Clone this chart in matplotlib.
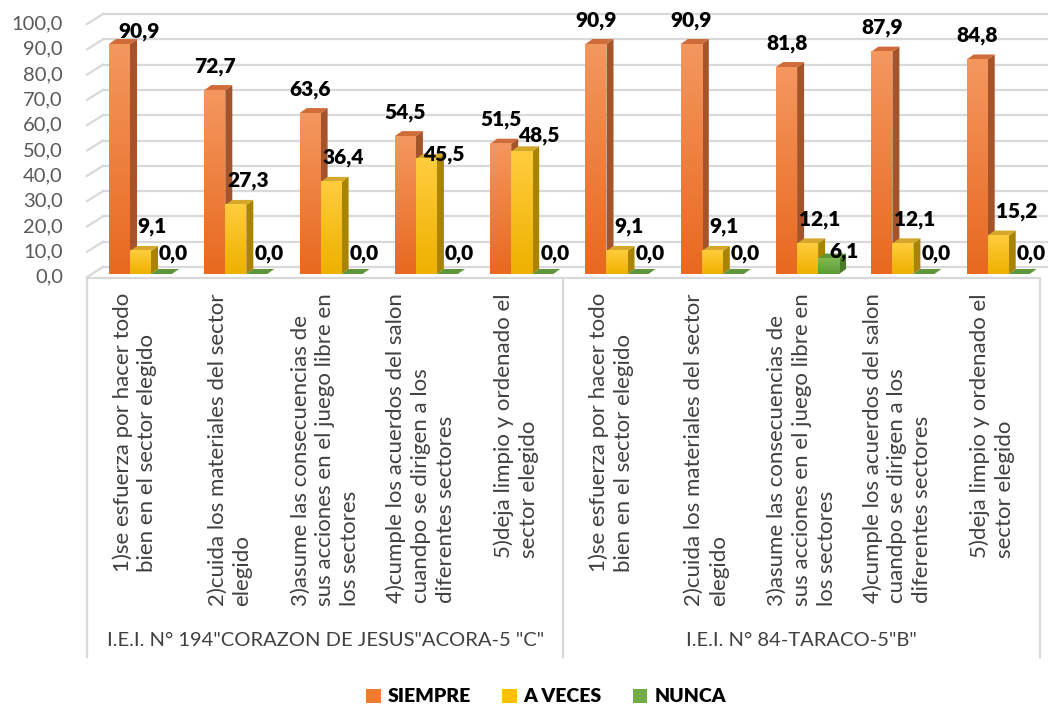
import numpy as np
import matplotlib
matplotlib.use('Agg')
import matplotlib.pyplot as plt
from matplotlib.patches import Polygon, Patch
from matplotlib.colors import LinearSegmentedColormap

# --- Datos ---
grupos = ['I.E.I. N° 194"CORAZON DE JESUS"ACORA-5 "C"', 'I.E.I. N° 84-TARACO-5"B"']
items = [
    '1)se esfuerza por hacer todo\nbien en el sector elegido',
    '2)cuida los materiales del sector\nelegido',
    '3)asume las consecuencias de\nsus acciones en el juego libre en\nlos sectores',
    '4)cumple los acuerdos del salon\ncuandpo se dirigen a los\ndiferentes sectores',
    '5)deja limpio y ordenado el\nsector elegido',
]
series = ['SIEMPRE', 'A VECES', 'NUNCA']
siempre = [90.9, 72.7, 63.6, 54.5, 51.5, 90.9, 90.9, 81.8, 87.9, 84.8]
a_veces = [9.1, 27.3, 36.4, 45.5, 48.5, 9.1, 9.1, 12.1, 12.1, 15.2]
nunca = [0.0, 0.0, 0.0, 0.0, 0.0, 0.0, 0.0, 6.1, 0.0, 0.0]
ticks = [0, 10, 20, 30, 40, 50, 60, 70, 80, 90, 100]

valores = [siempre, a_veces, nunca]
categorias = items + items

# --- Estilo ---
# colores: frente (arriba, abajo), lateral, tapa
estilos = [
    dict(front=('#f4975f', '#e8691f'), side='#a5532a', top='#cf6c3a', leg='#ee7d31'),
    dict(front=('#ffcc3d', '#eeb100'), side='#a98400', top='#d5a72a', leg='#ffc000'),
    dict(front=('#7dbb52', '#5d9a36'), side='#4b7a2c', top='#5f963c', leg='#70ad47'),
]
# desplazamiento de etiquetas (px) por serie y ajustes puntuales
lab_off = [(0, 24), (12, 24), (12, 20)]
lab_fix = {(0, 0): (20, 13), (1, 3): (17, 4), (1, 4): (17, 16),
           (2, 7): (15, 7), (1, 9): (18, 24)}

W, H = 1050, 709
PX, PY = 95.3, 2.53          # px por unidad x / por unidad de valor
X0, Y0 = 87, 274             # origen en px
fig = plt.figure(figsize=(W / 100, H / 100), dpi=100)
ax = fig.add_axes([0, 0, 1, 1])
ax.axis('off')

grid_c = '#d9d9d9'
wdx, wdy = 16 / PX, 10 / PY
x_end = (1047 - X0) / PX

# --- Rejilla (pared) ---
for t in ticks:
    yf = t - 1.2
    ax.plot([0, wdx], [yf, yf + wdy], color=grid_c, lw=1.6, zorder=1)
    ax.plot([wdx, x_end], [yf + wdy, yf + wdy], color=grid_c, lw=1.6, zorder=1)
    ax.text(-24 / PX, yf, f'{t:.1f}'.replace('.', ','), ha='right', va='center',
            fontsize=14.5, color='#595959', family='Lato')

# --- Barras 3D ---
bw = 21 / PX
ddx, ddy = 7 / PX, 5 / PY
grad = np.linspace(0, 1, 64).reshape(-1, 1)

for s, vals in enumerate(valores):
    st = estilos[s]
    cmap = LinearSegmentedColormap.from_list('g%d' % s, [st['front'][1], st['front'][0]])
    for i, v in enumerate(vals):
        x = i + 22 / PX + s * bw
        z = 3 + i * 3 + s
        side = [(x + bw, 0), (x + bw + ddx, ddy), (x + bw + ddx, v + ddy), (x + bw, v)]
        top = [(x, v), (x + ddx, v + ddy), (x + bw + ddx, v + ddy), (x + bw, v)]
        ax.add_patch(Polygon(side, closed=True, fc=st['side'], ec='none', zorder=z))
        ax.add_patch(Polygon(top, closed=True, fc=st['top'], ec='none', zorder=z))
        if v > 0:
            ax.imshow(grad, extent=[x, x + bw, 0, v], origin='lower', aspect='auto',
                      cmap=cmap, interpolation='bilinear', zorder=z)
        ox, oy = lab_fix.get((s, i), lab_off[s])
        ax.text(x + bw / 2 + ox / PX, v + oy / PY, f'{v:.1f}'.replace('.', ','),
                ha='center', va='center', fontsize=15, fontweight='heavy',
                color='black', family='Lato', zorder=100)

# --- Eje de categorias (dos niveles) ---
y_axis = (Y0 - 278) / PY
y_bot = (Y0 - 657) / PY
ax.plot([0, 10], [y_axis, y_axis], color=grid_c, lw=1.6, zorder=1)
for xv in [0, 5, 10]:
    ax.plot([xv, xv], [y_axis, y_bot], color=grid_c, lw=1.6, zorder=1)

for i, lab in enumerate(categorias):
    ax.text(i + 0.5, (Y0 - 293) / PY, lab, rotation=90, ha='center', va='top',
            multialignment='left', fontsize=16, color='#404040', family='Lato',
            linespacing=1.3)
for g, lab in enumerate(grupos):
    ax.text(2.5 + 5 * g, (Y0 - 640) / PY, lab, ha='center', va='center',
            fontsize=14.5, color='#404040', family='Lato')

ax.set_xlim(-X0 / PX, (W - X0) / PX)
ax.set_ylim((Y0 - H) / PY, Y0 / PY)

# --- Leyenda ---
handles = [Patch(facecolor=e['leg'], edgecolor='none', label=n) for e, n in zip(estilos, series)]
fig.legend(handles=handles, loc='center', bbox_to_anchor=(546 / W, 1 - 697 / H), ncol=3,
           frameon=False, handlelength=0.75, handleheight=0.75, handletextpad=0.35,
           columnspacing=1.6, prop={'family': 'Lato', 'weight': 'heavy', 'size': 14})

fig.savefig('out.png', dpi=100)
